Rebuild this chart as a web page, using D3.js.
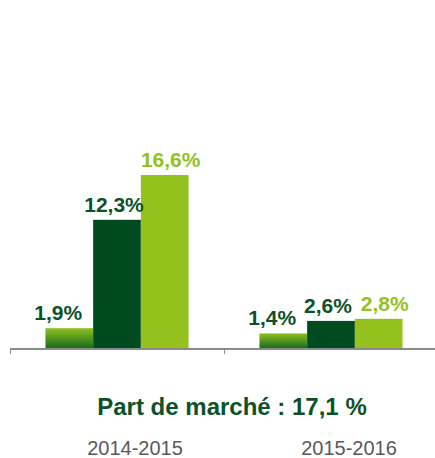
<!DOCTYPE html>
<html>
<head>
<meta charset="utf-8">
<script src="https://cdn.jsdelivr.net/npm/d3@7"></script>
<style>
  body { margin: 0; background: #fff; }
  text { font-family: "Liberation Sans", Arial, sans-serif; }
</style>
</head>
<body>
<div id="chart"></div>
<script>
// data
var categories = ["2014-2015", "2015-2016"]
var seriesNames = ["s1", "s2", "s3"]
var values = [
	[1.9, 12.3, 16.6],
	[1.4, 2.6, 2.8]
]
var valueLabels = [
	["1,9%", "12,3%", "16,6%"],
	["1,4%", "2,6%", "2,8%"]
]
var titleText = "Part de marché : 17,1 %"

var width = 435
var height = 458
var baseY = 348

var svg = d3.select("#chart")
	.append("svg")
	.attr("width", width)
	.attr("height", height)

var defs = svg.append("defs")
var grad = defs.append("linearGradient")
	.attr("id", "g1")
	.attr("x1", 0).attr("y1", 0).attr("x2", 0).attr("y2", 1)
grad.append("stop").attr("offset", "0%").attr("stop-color", "#8dc21f")
grad.append("stop").attr("offset", "100%").attr("stop-color", "#1c6a1e")

// per-series styling
var fills = ["url(#g1)", "#004a1f", "#95c11f"]
var labelColors = ["#0c5228", "#0c5228", "#95c11f"]
var labelShift = [-11, -3, 6]   // labels sit a bit off-centre in the original

var x0 = d3.scaleBand()
	.domain(categories)
	.range([10, 438])

var x1 = d3.scaleBand()
	.domain(seriesNames)
	.range([0, x0.bandwidth()])
	.paddingOuter(0.743)

var y = d3.scaleLinear()
	.domain([0, 16.6])
	.range([baseY, 175])

var groups = svg.selectAll("g.grp")
	.data(categories)
	.enter()
	.append("g")
	.attr("class", "grp")
	.attr("transform", function(d) { return "translate(" + x0(d) + ",0)" })

groups.selectAll("rect")
	.data(function(d, i) { return values[i].map(function(v, j) { return {v: v, j: j} }) })
	.enter()
	.append("rect")
	.attr("x", function(d) { return x1(seriesNames[d.j]) })
	.attr("width", x1.bandwidth())
	.attr("y", function(d) { return y(d.v) })
	.attr("height", function(d) { return baseY - y(d.v) })
	.style("fill", function(d) { return fills[d.j] })

groups.selectAll("text.val")
	.data(function(d, i) { return values[i].map(function(v, j) { return {v: v, j: j, lab: valueLabels[i][j]} }) })
	.enter()
	.append("text")
	.attr("class", "val")
	.attr("x", function(d) { return x1(seriesNames[d.j]) + x1.bandwidth() / 2 + labelShift[d.j] })
	.attr("y", function(d) { return y(d.v) - 8 })
	.attr("text-anchor", "middle")
	.style("font-size", "21px")
	.style("font-weight", "bold")
	.style("fill", function(d) { return labelColors[d.j] })
	.text(function(d) { return d.lab })

// axis line + ticks
svg.append("line")
	.attr("x1", 10).attr("x2", width)
	.attr("y1", baseY + 1).attr("y2", baseY + 1)
	.style("stroke", "#8a8a8a")
	.style("stroke-width", 2)

svg.selectAll("line.tick")
	.data(categories)
	.enter()
	.append("line")
	.attr("class", "tick")
	.attr("x1", function(d) { return x0(d) + 0.5 })
	.attr("x2", function(d) { return x0(d) + 0.5 })
	.attr("y1", baseY)
	.attr("y2", baseY + 6)
	.style("stroke", "#8a8a8a")
	.style("stroke-width", 1)

svg.append("text")
	.attr("x", 232)
	.attr("y", 415)
	.attr("text-anchor", "middle")
	.style("font-size", "24px")
	.style("font-weight", "bold")
	.style("fill", "#0c5228")
	.text(titleText)

svg.selectAll("text.cat")
	.data(categories)
	.enter()
	.append("text")
	.attr("class", "cat")
	.attr("x", function(d) { return x0(d) + x0.bandwidth() / 2 + 18 })
	.attr("y", 455)
	.attr("text-anchor", "middle")
	.style("font-size", "20px")
	.style("fill", "#595959")
	.text(function(d) { return d })
</script>
</body>
</html>
